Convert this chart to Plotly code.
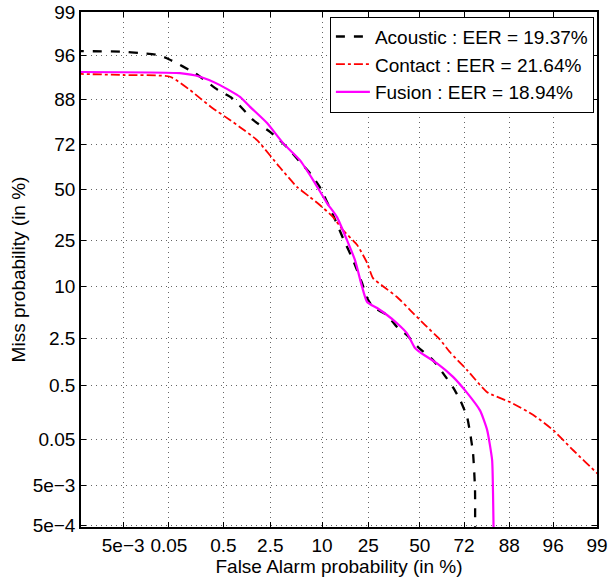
import plotly.graph_objects as go
from statistics import NormalDist

# ---- data (percent) ----
acoustic_fa = [3e-4, 5e-3, 0.012, 0.03, 0.05, 0.16, 0.41, 0.69, 0.99, 1.44, 1.8, 2.5, 3.3, 4.4, 5.8, 7.5, 9.5,
               12.8, 15.7, 19.1, 22.5, 24.5, 27.0, 33.4, 38.3, 43.4, 49.1, 56.9, 62.0, 66.9, 70.2, 73.3,
               74.6, 75.8, 76.6, 76.6]
acoustic_miss = [96.5, 96.45, 96.3, 96.1, 95.6, 93.6, 90.3, 88.4, 85.6, 81.8, 80.0, 77.3, 74.0, 69.6, 63.9, 58.3,
                 51.0, 36.6, 26.0, 17.5, 10.8, 7.6, 6.05, 4.9, 3.5, 2.75, 1.9, 1.23, 0.78, 0.46, 0.28, 0.137,
                 0.067, 0.026, 0.004, 1e-4]

contact_fa = [3e-4, 5e-3, 0.053, 0.13, 0.197, 0.33, 0.64, 0.92, 1.64, 3.3, 5.4, 7.5, 9.5, 12.8, 15.7,
              20.6, 24.5, 27.0, 31.5, 38.3, 45.0, 51.8, 60.5, 65.5, 73.3, 81.2, 88.2, 93.2, 96.0, 97.8, 99.0, 99.3]
contact_miss = [93.5, 93.3, 93.0, 90.3, 88.4, 85.6, 81.8, 79.2, 74.0, 61.4, 51.0, 45.8, 41.7, 35.6, 29.5,
                23.1, 16.6, 12.1, 10.1, 7.8, 5.6, 3.9, 2.4, 1.6, 0.87, 0.38, 0.256, 0.15, 0.077, 0.030, 0.0095,
                0.006]

fusion_fa = [3e-4, 0.083, 0.197, 0.44, 0.92, 1.3, 2.26, 3.65, 5.8, 8.1, 11.2, 13.9, 17.0, 19.8, 22.5,
             24.5, 28.8, 33.4, 38.3, 43.4, 47.6, 50.2, 59.0, 66.9, 73.3, 78.6, 81.2, 82.9, 83.2, 83.5]
fusion_miss = [93.8, 93.6, 93.0, 91.4, 88.7, 86.0, 80.7, 72.7, 64.8, 54.7, 42.7, 35.6, 25.1, 17.5, 9.9,
               6.9, 5.9, 4.9, 3.9, 2.9, 1.83, 1.6, 1.1, 0.68, 0.37, 0.18, 0.077, 0.0185, 3.2e-3, 1e-4]

x_ticks = [5e-3, 0.05, 0.5, 2.5, 10, 25, 50, 72, 88, 96, 99]
x_labels = ["5e\u22123", "0.05", "0.5", "2.5", "10", "25", "50", "72", "88", "96", "99"]
y_ticks = [5e-4, 5e-3, 0.05, 0.5, 2.5, 10, 25, 50, 72, 88, 96, 99]
y_labels = ["5e\u22124", "5e\u22123", "0.05", "0.5", "2.5", "10", "25", "50", "72", "88", "96", "99"]

series = [
    ("Acoustic : EER = 19.37%", acoustic_fa, acoustic_miss, "black", "dash", 2.3),
    ("Contact : EER = 21.64%", contact_fa, contact_miss, "red", "dashdot", 1.8),
    ("Fusion : EER = 18.94%", fusion_fa, fusion_miss, "magenta", "solid", 2.2),
]

nd = NormalDist()


def probit(vals):
    return [nd.inv_cdf(v / 100.0) for v in vals]


fig = go.Figure()
for name, fa, miss, color, dash, w in series:
    fig.add_trace(go.Scatter(
        x=probit(fa), y=probit(miss), mode="lines", name=name,
        line=dict(color=color, dash=dash, width=w, shape="spline", smoothing=0.5),
    ))

FONT = "Liberation Sans, Arial, Helvetica, sans-serif"
FS = 19
axis_common = dict(
    showline=True, linecolor="black", linewidth=1.5, mirror="allticks",
    ticks="inside", ticklen=5, tickcolor="black", tickwidth=1,
    showgrid=True, gridcolor="#666666", griddash="1px,4px", gridwidth=1,
    zeroline=False, tickfont=dict(family=FONT, size=FS, color="black"),
    automargin=False,
)

fig.update_xaxes(
    range=[-4.444, nd.inv_cdf(0.99)],
    tickvals=probit(x_ticks), ticktext=x_labels,
    title=dict(text="False Alarm probability (in %)", font=dict(family=FONT, size=FS, color="black"), standoff=0),
    **axis_common,
)
fig.update_yaxes(
    range=[-4.44, nd.inv_cdf(0.99)],
    tickvals=probit(y_ticks), ticktext=y_labels,
    title=dict(text="Miss probability (in %)", font=dict(family=FONT, size=FS, color="black"), standoff=2),
    **axis_common,
)

fig.update_layout(
    width=609, height=578,
    margin=dict(l=81, r=12, t=12, b=51, autoexpand=False),
    paper_bgcolor="white", plot_bgcolor="white",
    font=dict(family=FONT, size=FS, color="black"),
    showlegend=True,
    legend=dict(
        x=0.994, y=0.991, xanchor="right", yanchor="top",
        bgcolor="white", bordercolor="black", borderwidth=1,
        font=dict(family=FONT, size=FS, color="black"),
        itemwidth=34, tracegroupgap=0,
    ),
)

fig.write_html("out.html")
